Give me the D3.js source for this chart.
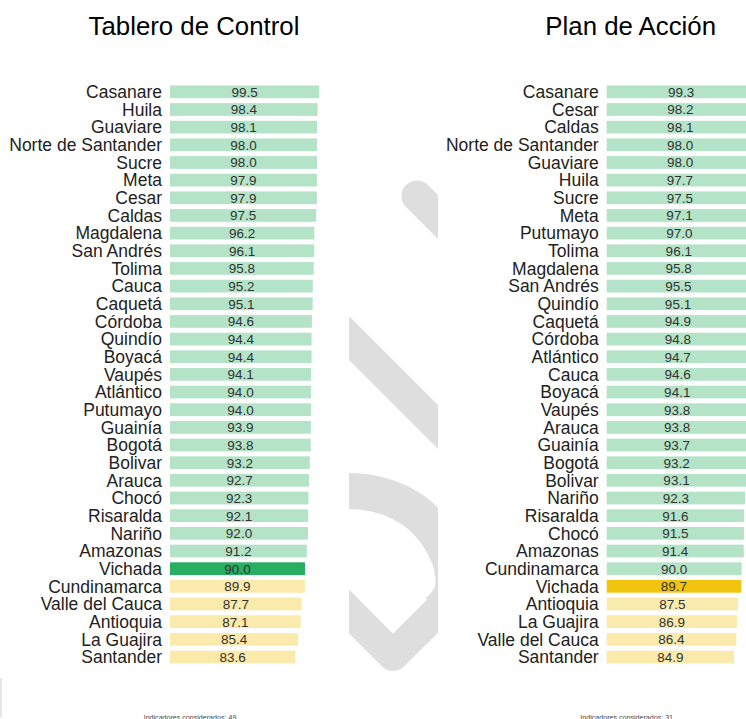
<!DOCTYPE html>
<html>
<head>
<meta charset="utf-8">
<script src="https://cdn.jsdelivr.net/npm/d3@7"></script>
<style>
  body { margin: 0; background: #fff; }
  svg { display: block; font-family: "Liberation Sans", Arial, sans-serif; }
</style>
</head>
<body>
<div id="app"></div>
<script>
// tablero de control (left)
let tableroNames = ['Casanare', 'Huila', 'Guaviare', 'Norte de Santander', 'Sucre', 'Meta', 'Cesar', 'Caldas',
  'Magdalena', 'San Andrés', 'Tolima', 'Cauca', 'Caquetá', 'Córdoba', 'Quindío', 'Boyacá', 'Vaupés',
  'Atlántico', 'Putumayo', 'Guainía', 'Bogotá', 'Bolivar', 'Arauca', 'Chocó', 'Risaralda', 'Nariño',
  'Amazonas', 'Vichada', 'Cundinamarca', 'Valle del Cauca', 'Antioquia', 'La Guajira', 'Santander']
let tableroValues = [99.5, 98.4, 98.1, 98.0, 98.0, 97.9, 97.9, 97.5, 96.2, 96.1, 95.8, 95.2, 95.1, 94.6, 94.4,
  94.4, 94.1, 94.0, 94.0, 93.9, 93.8, 93.2, 92.7, 92.3, 92.1, 92.0, 91.2, 90.0, 89.9, 87.7, 87.1, 85.4, 83.6]

// plan de accion (right)
let planNames = ['Casanare', 'Cesar', 'Caldas', 'Norte de Santander', 'Guaviare', 'Huila', 'Sucre', 'Meta',
  'Putumayo', 'Tolima', 'Magdalena', 'San Andrés', 'Quindío', 'Caquetá', 'Córdoba', 'Atlántico', 'Cauca',
  'Boyacá', 'Vaupés', 'Arauca', 'Guainía', 'Bogotá', 'Bolivar', 'Nariño', 'Risaralda', 'Chocó', 'Amazonas',
  'Cundinamarca', 'Vichada', 'Antioquia', 'La Guajira', 'Valle del Cauca', 'Santander']
let planValues = [99.3, 98.2, 98.1, 98.0, 98.0, 97.7, 97.5, 97.1, 97.0, 96.1, 95.8, 95.5, 95.1, 94.9, 94.8,
  94.7, 94.6, 94.1, 93.8, 93.8, 93.7, 93.2, 93.1, 92.3, 91.6, 91.5, 91.4, 90.0, 89.7, 87.5, 86.9, 86.4, 84.9]

let titles = ['Tablero de Control', 'Plan de Acción']
let counts = [49, 31]
let highlight = 'Vichada'

const width = 746
const height = 719

const svg = d3.select('#app').append('svg')
  .attr('width', width)
  .attr('height', height)

// grey logo watermark, only visible in the gap between both panels
svg.append('clipPath').attr('id', 'gap')
  .append('rect').attr('x', 349).attr('y', 0).attr('width', 89).attr('height', height)

const mark = svg.append('g').attr('clip-path', 'url(#gap)')
  .attr('fill', 'none').attr('stroke', '#dedede')
mark.append('path').attr('d', 'M417,196L480,259').attr('stroke-width', 31).attr('stroke-linecap', 'round')
mark.append('path').attr('d', 'M300,289L480,469').attr('stroke-width', 31)
mark.append('path').attr('d', 'M300,562.5L393,655.6L470,579').attr('stroke-width', 31).attr('stroke-linejoin', 'round')
mark.append('path').attr('d', 'M330,492C380,486 430,505 450,560C458,585 452,600 437,612').attr('stroke-width', 36)

svg.append('rect').attr('x', 0).attr('y', 678).attr('width', 2).attr('height', 39).attr('fill', '#e6e6e6')

let colorFor = (v) => v >= 90 ? '#27ae60' : '#f1c40f'

let drawPanel = (g, title, names, values, count) => {
  const y = d3.scaleBand()
    .domain(names)
    .range([83, 665.8])
    .paddingInner(0.28)
    .paddingOuter(0.14)

  const x = d3.scaleLinear().domain([0, 100]).range([0, 150])
  const x0 = 170

  g.append('text')
    .attr('x', 194)
    .attr('y', 35.3)
    .attr('text-anchor', 'middle')
    .attr('font-size', 25.8)
    .attr('fill', '#000')
    .text(title)

  const rows = g.selectAll('.row')
    .data(names.map((n, i) => ({ name: n, value: values[i] })))
    .enter()
    .append('g')
    .attr('class', 'row')

  rows.append('rect')
    .attr('x', x0)
    .attr('y', d => y(d.name))
    .attr('width', d => x(d.value))
    .attr('height', y.bandwidth())
    .attr('fill', d => colorFor(d.value))
    .attr('fill-opacity', d => d.name === highlight ? 1 : 0.35)

  rows.append('text')
    .attr('x', x0 - 8)
    .attr('y', d => y(d.name) + y.bandwidth() / 2 + 6.3)
    .attr('text-anchor', 'end')
    .attr('font-size', 17.5)
    .attr('fill', '#222')
    .text(d => d.name)

  rows.append('text')
    .attr('x', d => x0 + x(d.value) / 2)
    .attr('y', d => y(d.name) + y.bandwidth() / 2 + 4.9)
    .attr('text-anchor', 'middle')
    .attr('font-size', 13.5)
    .attr('fill', '#333')
    .text(d => d3.format('.1f')(d.value))

  g.append('text')
    .attr('x', 190)
    .attr('y', 720)
    .attr('text-anchor', 'middle')
    .attr('font-size', 7.1)
    .attr('fill', '#444')
    .text('Indicadores considerados: ' + count)
}

drawPanel(svg.append('g'), titles[0], tableroNames, tableroValues, counts[0])
drawPanel(svg.append('g').attr('transform', 'translate(436.7,0)'), titles[1], planNames, planValues, counts[1])
</script>
</body>
</html>
